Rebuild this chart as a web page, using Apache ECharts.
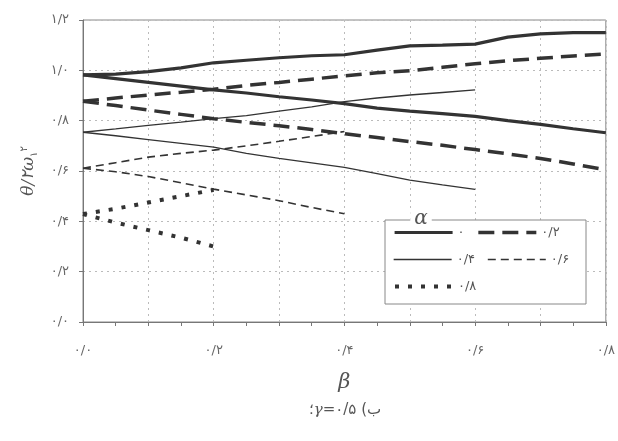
<!DOCTYPE html>
<html>
<head>
<meta charset="utf-8">
<script src="https://cdn.jsdelivr.net/npm/echarts@6/dist/echarts.min.js"></script>
<style>
  html, body { margin: 0; padding: 0; background: #fff; }
  #chart { width: 618px; height: 441px; }
</style>
</head>
<body>
<div id="chart"></div>
<script>
// β values (step 0.05)
const beta = [0, 0.05, 0.1, 0.15, 0.2, 0.25, 0.3, 0.35, 0.4, 0.45, 0.5, 0.55, 0.6, 0.65, 0.7, 0.75, 0.8];

// α = 0 (two branches)
const a0Up = [0.982, 0.985, 0.995, 1.01, 1.03, 1.04, 1.05, 1.058, 1.062, 1.08, 1.097, 1.10, 1.104, 1.132, 1.145, 1.15, 1.15];
const a0Low = [0.982, 0.967, 0.952, 0.937, 0.922, 0.91, 0.895, 0.882, 0.868, 0.85, 0.838, 0.828, 0.817, 0.8, 0.785, 0.768, 0.752];
// α = 0.2
const a2Up = [0.877, 0.89, 0.902, 0.913, 0.925, 0.94, 0.952, 0.965, 0.978, 0.99, 0.998, 1.012, 1.026, 1.038, 1.048, 1.057, 1.065];
const a2Low = [0.877, 0.86, 0.842, 0.825, 0.808, 0.793, 0.78, 0.765, 0.748, 0.733, 0.717, 0.702, 0.685, 0.668, 0.65, 0.628, 0.605];
// α = 0.4 (to β = 0.6)
const a4Up = [0.754, 0.767, 0.781, 0.794, 0.808, 0.82, 0.838, 0.855, 0.876, 0.89, 0.902, 0.912, 0.922];
const a4Low = [0.754, 0.74, 0.725, 0.71, 0.695, 0.67, 0.65, 0.632, 0.614, 0.59, 0.564, 0.545, 0.527];
// α = 0.6 (to β = 0.4)
const a6Up = [0.611, 0.633, 0.655, 0.67, 0.683, 0.7, 0.718, 0.737, 0.757];
const a6Low = [0.611, 0.597, 0.578, 0.553, 0.528, 0.505, 0.482, 0.455, 0.43];
// α = 0.8 (to β = 0.2)
const a8Up = [0.429, 0.45, 0.475, 0.5, 0.525];
const a8Low = [0.429, 0.395, 0.365, 0.335, 0.30];

const alphaNames = ['۰', '۰/۲', '۰/۴', '۰/۶', '۰/۸'];

const faDigits = '۰۱۲۳۴۵۶۷۸۹';
function toFa(v) {
    return v.toFixed(1).replace('.', '/').replace(/[0-9]/g, d => faDigits[d]);
}

function pairs(ys) {
    return ys.map((y, i) => [beta[i], y]);
}

const styles = [
    { width: 3.2, type: 'solid' },
    { width: 3.5, type: [16, 8] },
    { width: 1.3, type: 'solid' },
    { width: 1.6, type: [8, 5] },
    { width: 4, type: [4, 9] }
];
const branches = [[a0Up, a0Low], [a2Up, a2Low], [a4Up, a4Low], [a6Up, a6Low], [a8Up, a8Low]];

let series = [];
branches.forEach((pair, k) => {
    pair.forEach(ys => {
        series.push({
            name: alphaNames[k],
            type: 'line',
            symbol: 'none',
            silent: true,
            color: '#333',
            data: pairs(ys),
            lineStyle: { color: '#333', width: styles[k].width, type: styles[k].type, cap: 'butt' }
        });
    });
});

function legendItem(k) {
    return {
        name: alphaNames[k],
        itemStyle: { color: 'transparent', borderWidth: 0 },
        lineStyle: { color: '#333', width: styles[k].width, type: styles[k].type }
    };
}

const font = 'DejaVu Sans';
const legendBase = {
    orient: 'horizontal',
    left: 393,
    itemWidth: 58,
    itemHeight: 14,
    itemGap: 12,
    selectedMode: false,
    padding: 0,
    z: 10,
    itemStyle: { color: 'transparent', borderWidth: 0 },
    textStyle: { fontFamily: font, fontSize: 13, color: '#555', width: 30 }
};

const chart = echarts.init(document.getElementById('chart'));
chart.setOption({
    animation: false,
    backgroundColor: '#fff',
    grid: { left: 83, right: 10, top: 20, bottom: 119, show: true, borderColor: '#888', borderWidth: 1 },
    xAxis: {
        type: 'value', min: 0, max: 0.8, interval: 0.1,
        name: 'β', nameLocation: 'middle', nameGap: 50,
        nameTextStyle: { fontFamily: 'DejaVu Serif', fontStyle: 'italic', fontSize: 21, color: '#555' },
        axisLine: { lineStyle: { color: '#777' } },
        axisTick: { show: true, length: 4, lineStyle: { color: '#777' } },
        minorTick: { show: true, splitNumber: 2, length: 4, lineStyle: { color: '#777' } },
        axisLabel: {
            margin: 22, fontFamily: font, fontSize: 13, color: '#666',
            formatter: v => (Math.round(v * 10) % 2 === 0 ? toFa(v) : '')
        },
        splitLine: { show: true, lineStyle: { color: '#bbb', type: [2, 4] } }
    },
    yAxis: {
        type: 'value', min: 0, max: 1.2, interval: 0.2,
        name: '{a|θ/۲ω}{sub|۱}{sup|۲}', nameLocation: 'middle', nameGap: 44, nameRotate: 90,
        nameTextStyle: {
            rich: {
                a: { fontFamily: 'DejaVu Serif', fontStyle: 'italic', fontSize: 17, color: '#555' },
                sub: { fontFamily: font, fontSize: 10, color: '#555', padding: [10, 0, 0, 0] },
                sup: { fontFamily: font, fontSize: 10, color: '#555', padding: [0, 0, 10, 0] }
            }
        },
        axisLine: { show: true, lineStyle: { color: '#777' } },
        axisTick: { show: true, length: 4, lineStyle: { color: '#777' } },
        axisLabel: { margin: 14, fontFamily: font, fontSize: 13, color: '#666', formatter: v => toFa(v) },
        splitLine: { show: true, lineStyle: { color: '#bbb', type: [2, 4] } }
    },
    legend: [
        Object.assign({}, legendBase, { top: 226, data: [legendItem(0), legendItem(1)] }),
        Object.assign({}, legendBase, { top: 253, data: [legendItem(2), legendItem(3)] }),
        Object.assign({}, legendBase, { top: 280, data: [legendItem(4)] })
    ],
    graphic: [
        { type: 'rect', shape: { x: 385, y: 220, width: 201, height: 84 }, style: { fill: '#fff', stroke: '#888', lineWidth: 1 }, z: 3 },
        { type: 'text', x: 421, y: 219, style: { text: 'α', font: 'italic 20px DejaVu Serif', fill: '#555', backgroundColor: '#fff', padding: [0, 4], align: 'center', verticalAlign: 'middle' }, z: 4 },
        {
            type: 'text', x: 345, y: 410, z: 6,
            style: {
                text: '{t|؛}{g|γ}{t|=۰/۵ (ب}',
                rich: {
                    t: { font: '15px DejaVu Sans', fill: '#555' },
                    g: { font: 'italic 15px DejaVu Serif', fill: '#555' }
                },
                align: 'center', verticalAlign: 'middle'
            }
        }
    ],
    series: series
});
</script>
</body>
</html>
